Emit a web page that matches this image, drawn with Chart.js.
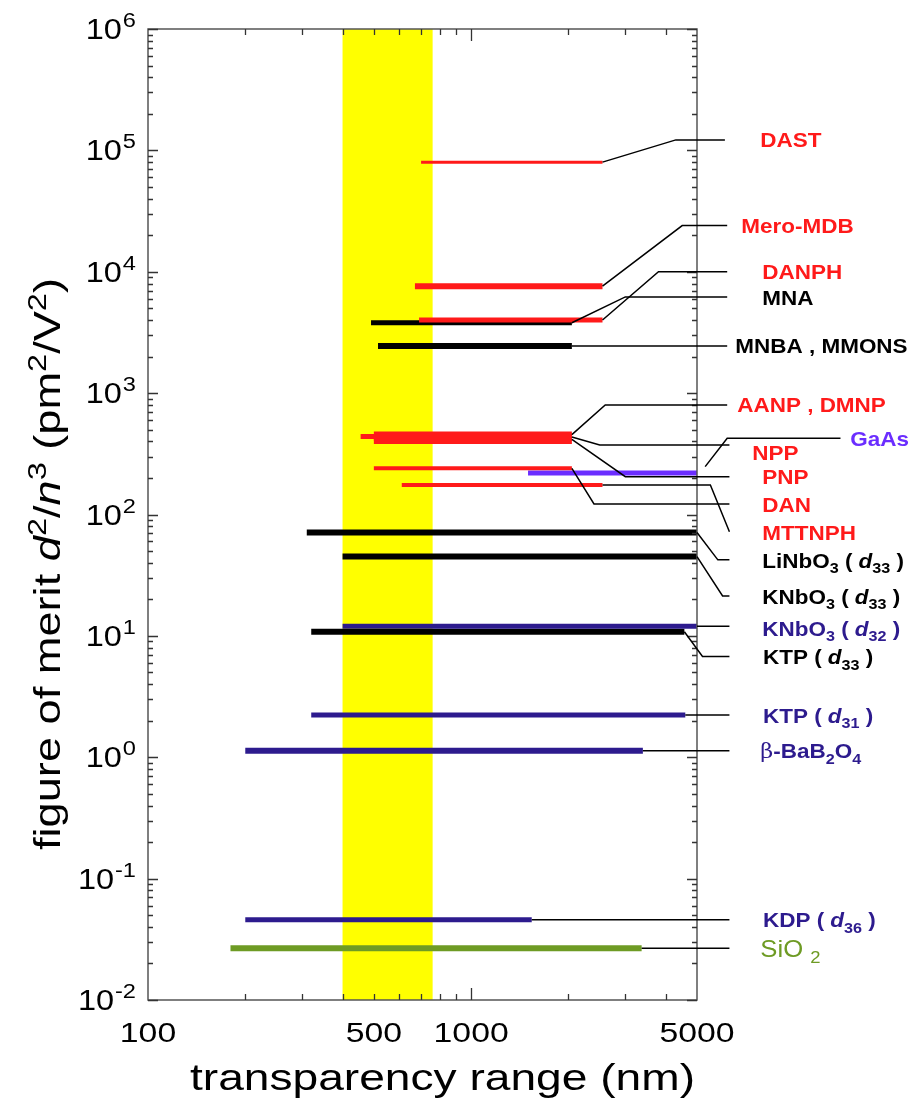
<!DOCTYPE html>
<html><head><meta charset="utf-8">
<script src="https://cdn.jsdelivr.net/npm/chart.js@4.4.1/dist/chart.umd.min.js"></script>
<style>html,body{margin:0;padding:0;background:#fff;overflow:hidden}</style>
</head><body>
<canvas id="c" width="912" height="1107"></canvas>
<script>
// ---------------- data ----------------
const materials = ['DAST','Mero-MDB','DANPH','MNA','MNBA , MMONS','AANP','DMNP','NPP','PNP','DAN','GaAs','MTTNPH',
  'LiNbO3 (d33)','KNbO3 (d33)','KNbO3 (d32)','KTP (d33)','KTP (d31)','β-BaB2O4','KDP (d36)','SiO2'];
// transparency range, nm
const cutoffShort = [700,670,690,490,515,500,500,455,500,500,1500,610,310,400,400,320,320,200,200,180];
const cutoffLong  = [2550,2550,2550,2050,2050,2050,2050,2050,2050,2050,5000,2550,5000,5000,5000,4570,4600,3400,1540,3370];
// figure of merit d^2/n^3 (pm^2/V^2)
const figureOfMerit = [8.0e4,7.6e3,4.0e3,3.8e3,2.45e3,460,400,440,425,240,220,175,71,45,12,10.8,2.23,1.13,0.0458,0.0267];
// visible window (yellow band), nm
const visibleBand = [400, 760];
// tick labels
const xTickLabels = [100, 500, 1000, 5000];
const yTickExponents = [-2,-1,0,1,2,3,4,5,6];
// leader lines: [nm, fom] vertices from bar end to label
const leaderPaths = [
  [[2550,8.0e4],[4300,1.22e5],[6100,1.22e5]],
  [[2550,7.6e3],[4500,2.4e4],[6200,2.4e4]],
  [[2550,4.0e3],[3800,1.0e4],[6200,1.0e4]],
  [[2050,3.8e3],[3000,6.2e3],[6200,6.2e3]],
  [[2050,2450],[6200,2450]],
  [[2050,455],[2600,800],[6200,800]],
  [[2050,435],[2500,374],[6300,374]],
  [[2050,415],[3000,205],[6300,205]],
  [[5300,248],[6200,425],[13900,425]],
  [[2050,240],[2400,122],[6300,122]],
  [[2550,175],[5500,175],[6300,72]],
  [[5000,71],[5800,42.3],[6300,42.3]],
  [[5000,45],[6000,21.3],[6300,21.3]],
  [[5000,12],[6300,12]],
  [[4570,10.8],[5200,6.76],[6300,6.76]],
  [[4600,2.23],[6300,2.23]],
  [[3400,1.13],[6300,1.13]],
  [[1540,0.0458],[6300,0.0458]],
  [[3370,0.0267],[6300,0.0267]]
];
// label anchors [nm, fom] (left edge, vertical middle)
const labelAnchors = [
  [7850,1.22e5],[6855,2.4e4],[7960,1.0e4],[7960,6.2e3],[6570,2450],[6660,800],[14900,425],
  [7410,325],[7960,205],[7960,122],[7960,70.5],[7960,42],[7960,21.3],[7960,11.6],[8000,6.76],
  [8000,2.23],[7850,1.13],[8000,0.0458],[7850,0.0267]
];

// ---------------- styles ----------------
const RED='#ff1a1a', BLK='#000000', GAAS='#6b2dff', NAVY='#2d1b8e', GRN='#6e9b24';
const barColors = [RED,RED,RED,BLK,BLK,RED,RED,RED,RED,RED,GAAS,RED,BLK,BLK,NAVY,BLK,NAVY,NAVY,NAVY,GRN];
const barWidths = [3,6,5,5,6,5,5,5,5,4,5,4,6,6,5,6,5,6,5,6];
const FONT = '"Liberation Sans", Arial, Helvetica, sans-serif';
const sub = t => ({t, sub:true});
const it = t => ({t, it:true});
const labelTexts = [
  {c:RED, s:[{t:'DAST'}]},
  {c:RED, s:[{t:'Mero-MDB'}]},
  {c:RED, s:[{t:'DANPH'}]},
  {c:BLK, s:[{t:'MNA'}]},
  {c:BLK, s:[{t:'MNBA , MMONS'}]},
  {c:RED, s:[{t:'AANP , DMNP'}]},
  {c:GAAS, s:[{t:'GaAs'}]},
  {c:RED, s:[{t:'NPP'}]},
  {c:RED, s:[{t:'PNP'}]},
  {c:RED, s:[{t:'DAN'}]},
  {c:RED, s:[{t:'MTTNPH'}]},
  {c:BLK, s:[{t:'LiNbO'},sub('3'),{t:' ( '},it('d'),sub('33'),{t:' )'}]},
  {c:BLK, s:[{t:'KNbO'},sub('3'),{t:' ( '},it('d'),sub('33'),{t:' )'}]},
  {c:NAVY, s:[{t:'KNbO'},sub('3'),{t:' ( '},it('d'),sub('32'),{t:' )'}]},
  {c:BLK, s:[{t:'KTP ( '},it('d'),sub('33'),{t:' )'}]},
  {c:NAVY, s:[{t:'KTP ( '},it('d'),sub('31'),{t:' )'}]},
  {c:NAVY, s:[{t:'β', w:'normal', fam:'"DejaVu Serif", serif'},{t:'-BaB'},sub('2'),{t:'O'},sub('4')]},
  {c:NAVY, s:[{t:'KDP ( '},it('d'),sub('36'),{t:' )'}]},
  {c:GRN, s:[{t:'SiO '},sub('2')], w:'normal', size:24}
];

// rich text helper; returns width
function rich(ctx, segs, x, y, o, dry){
  let cx = 0;
  for (const s of segs){
    const small = s.sub || s.sup;
    const size = small ? o.size*0.72 : o.size;
    const w = s.w || o.weight || 'normal';
    ctx.font = (s.it?'italic ':'') + w + ' ' + size + 'px ' + (s.fam || FONT);
    const dy = s.sub ? o.size*0.27 : (s.sup ? -o.size*0.40 : 0);
    const wd = ctx.measureText(s.t).width * o.h;
    if (!dry){
      ctx.save(); ctx.translate(x+cx, y+dy); ctx.scale(o.h,1);
      ctx.fillStyle = o.color; ctx.textBaseline='alphabetic'; ctx.textAlign='left';
      ctx.fillText(s.t,0,0); ctx.restore();
    }
    cx += wd;
  }
  return cx;
}

const overlay = {
  id:'overlay',
  beforeDatasetsDraw(chart){
    const {ctx, chartArea:a, scales:{x}} = chart;
    const x0 = x.getPixelForValue(visibleBand[0]), x1 = x.getPixelForValue(visibleBand[1]);
    ctx.save(); ctx.fillStyle='#ffff00'; ctx.fillRect(x0, a.top, x1-x0, a.bottom-a.top); ctx.restore();
  },
  afterDatasetsDraw(chart){
    const {ctx, chartArea:a, scales:{x,y}} = chart;
    ctx.save();
    // frame
    ctx.strokeStyle='#555'; ctx.lineWidth=1.5;
    ctx.strokeRect(a.left, a.top, a.right-a.left, a.bottom-a.top);
    // y ticks (inward, both sides)
    ctx.strokeStyle='#333'; ctx.lineWidth=1.3;
    ctx.beginPath();
    for (let e=-2; e<=6; e++){
      for (let m=1; m<=9; m++){
        const v = m*Math.pow(10,e);
        if (v > 1e6*1.0001) break;
        const py = Math.round(y.getPixelForValue(v))+0.5;
        const L = m===1 ? 10 : 5;
        ctx.moveTo(a.left, py); ctx.lineTo(a.left+L, py);
        ctx.moveTo(a.right, py); ctx.lineTo(a.right-L, py);
      }
    }
    // x ticks (inward, top and bottom)
    for (let e=2; e<=3; e++){
      for (let m=1; m<=9; m++){
        const v = m*Math.pow(10,e);
        if (v<=100 || v>=5000) continue;
        const px = Math.round(x.getPixelForValue(v))+0.5;
        const L = m===1 ? 12 : 6;
        ctx.moveTo(px, a.bottom); ctx.lineTo(px, a.bottom-L);
        ctx.moveTo(px, a.top); ctx.lineTo(px, a.top+L);
      }
    }
    ctx.stroke();
    // leader lines
    ctx.strokeStyle='#000'; ctx.lineWidth=1.5; ctx.lineJoin='miter';
    for (const path of leaderPaths){
      ctx.beginPath();
      path.forEach(([nx,v],i)=>{
        const px=x.getPixelForValue(nx), py=y.getPixelForValue(v);
        i?ctx.lineTo(px,py):ctx.moveTo(px,py);
      });
      ctx.stroke();
    }
    // labels
    labelTexts.forEach((L,i)=>{
      const [nx,v]=labelAnchors[i];
      const size = L.size || 21;
      const px=x.getPixelForValue(nx), py=y.getPixelForValue(v);
      rich(ctx, L.s, px, py+size*0.36, {size, weight:L.w||'bold', h:1.07, color:L.c});
    });
    // y tick labels 10^n
    yTickExponents.forEach(e=>{
      const py = y.getPixelForValue(Math.pow(10,e));
      ctx.font='normal 29px '+FONT; const w1=ctx.measureText('10').width*1.12;
      ctx.font='normal 20px '+FONT; const w2=ctx.measureText(String(e)).width*1.18;
      const right=a.left-12;
      const x0=right-w2-w1-1;
      ctx.save(); ctx.fillStyle='#000'; ctx.textBaseline='alphabetic';
      ctx.translate(x0, py+10); ctx.scale(1.12,1); ctx.font='normal 29px '+FONT; ctx.fillText('10',0,0); ctx.restore();
      ctx.save(); ctx.fillStyle='#000'; ctx.textBaseline='alphabetic';
      ctx.translate(x0+w1+1, py-2); ctx.scale(1.18,1); ctx.font='normal 20px '+FONT; ctx.fillText(String(e),0,0); ctx.restore();
    });
    // x tick labels
    xTickLabels.forEach(v=>{
      const px = x.getPixelForValue(v);
      const t = String(v);
      ctx.font='normal 27px '+FONT;
      const w=ctx.measureText(t).width*1.25;
      ctx.save(); ctx.fillStyle='#000'; ctx.textBaseline='alphabetic';
      ctx.translate(px-w/2, a.bottom+42); ctx.scale(1.25,1); ctx.fillText(t,0,0); ctx.restore();
    });
    // x title
    {
      const segs=[{t:'transparency range (nm)'}];
      const o={size:36, weight:'normal', h:1, color:'#000'};
      const w0=rich(ctx, segs, 0,0,o,true);
      o.h = 505/w0;
      rich(ctx, segs, 190, a.bottom+90, o);
    }
    // y title (rotated)
    {
      const segs=[{t:'figure of merit '},it('d'),{t:'2',sup:true},{t:'/'},it('n'),{t:'3',sup:true},{t:' (pm'},{t:'2',sup:true},{t:'/V'},{t:'2',sup:true},{t:')'}];
      const o={size:36, weight:'normal', h:1, color:'#000'};
      const w0=rich(ctx, segs, 0,0,o,true);
      o.h = 572/w0;
      ctx.save(); ctx.translate(60, 850); ctx.rotate(-Math.PI/2);
      rich(ctx, segs, 0, 0, o);
      ctx.restore();
    }
    ctx.restore();
  }
};

const datasets = materials.map((name,i)=>({
  label:name,
  data:[{x:cutoffShort[i], y:figureOfMerit[i]},{x:cutoffLong[i], y:figureOfMerit[i]}],
  borderColor:barColors[i], backgroundColor:barColors[i],
  borderWidth:barWidths[i], borderCapStyle:'butt',
  pointRadius:0, fill:false, tension:0
}));

new Chart(document.getElementById('c'), {
  type:'line',
  data:{datasets},
  options:{
    responsive:false, animation:false, devicePixelRatio:1,
    layout:{padding:{left:148, right:215, top:29, bottom:107}},
    plugins:{legend:{display:false}, tooltip:{enabled:false}},
    scales:{
      x:{type:'logarithmic', min:100, max:5000, display:false},
      y:{type:'logarithmic', min:0.01, max:1e6, display:false}
    }
  },
  plugins:[overlay]
});
</script>
</body></html>
